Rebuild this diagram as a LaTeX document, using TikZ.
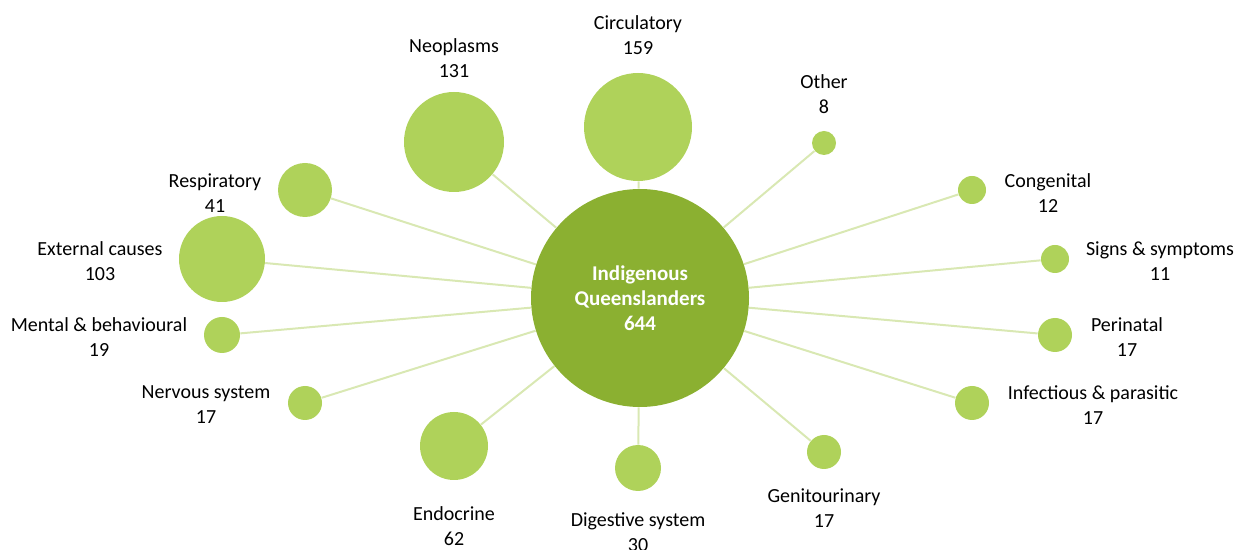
\documentclass[tikz,border=0pt]{standalone}
\usepackage{fontspec}
\setmainfont{Carlito}
\usepackage{tikz}

\definecolor{hubgreen}{HTML}{8BB031}
\definecolor{leafgreen}{HTML}{AFD25A}
\definecolor{spokegreen}{HTML}{D9E8B3}

\begin{document}
\begin{tikzpicture}[x=0.5pt, y=-0.5pt,
    font=\fontsize{10}{12.5}\selectfont,
    hub/.style={circle, fill=hubgreen, inner sep=0pt, text=white, font=\fontsize{10.5}{12.5}\selectfont\bfseries, align=center},
    bubble/.style={circle, fill=leafgreen, inner sep=0pt},
    lbl/.style={align=center, inner sep=0pt},
    spoke/.style={draw=spokegreen, line width=1pt}]
    \useasboundingbox (0,0) rectangle (1248,550);

    % centre
    \node[hub, minimum size=109pt] (iq) at (640,298) {Indigenous\\Queenslanders\\644};

    % top
    \node[bubble, minimum size=54pt] (circ) at (638,127) {};
    \node[bubble, minimum size=50pt] (neo) at (454,142) {};
    \node[bubble, minimum size=12pt] (oth) at (824,143) {};

    % right
    \node[bubble, minimum size=14pt] (cong) at (972,190) {};
    \node[bubble, minimum size=14pt] (sign) at (1055,259) {};
    \node[bubble, minimum size=17pt] (peri) at (1055,335) {};
    \node[bubble, minimum size=17pt] (infe) at (972,403) {};

    % bottom
    \node[bubble, minimum size=17pt] (geni) at (824,452) {};
    \node[bubble, minimum size=23pt] (dige) at (638,468) {};
    \node[bubble, minimum size=34pt] (endo) at (454,446) {};

    % left
    \node[bubble, minimum size=17pt] (nerv) at (305,403) {};
    \node[bubble, minimum size=18pt] (ment) at (222,335) {};
    \node[bubble, minimum size=43pt] (exte) at (222,259) {};
    \node[bubble, minimum size=27pt] (resp) at (305,190) {};

    % spokes
    \draw[spoke] (iq) -- (circ);
    \draw[spoke] (iq) -- (neo);
    \draw[spoke] (iq) -- (oth);
    \draw[spoke] (iq) -- (cong);
    \draw[spoke] (iq) -- (sign);
    \draw[spoke] (iq) -- (peri);
    \draw[spoke] (iq) -- (infe);
    \draw[spoke] (iq) -- (geni);
    \draw[spoke] (iq) -- (dige);
    \draw[spoke] (iq) -- (endo);
    \draw[spoke] (iq) -- (nerv);
    \draw[spoke] (iq) -- (ment);
    \draw[spoke] (iq) -- (exte);
    \draw[spoke] (iq) -- (resp);

    % labels
    \node[lbl] (circ-l) at (638,35) {Circulatory\\159};
    \node[lbl] (neo-l) at (454,58) {Neoplasms\\131};
    \node[lbl] (oth-l) at (824,94) {Other\\8};
    \node[lbl] (cong-l) at (1048,193) {Congenital\\12};
    \node[lbl] (sign-l) at (1160,261) {Signs \& symptoms\\11};
    \node[lbl] (peri-l) at (1127,337) {Perinatal\\17};
    \node[lbl] (infe-l) at (1093,405) {Infectious \& parasitic\\17};
    \node[lbl] (geni-l) at (824,508) {Genitourinary\\17};
    \node[lbl] (dige-l) at (638,532) {Digestive system\\30};
    \node[lbl] (endo-l) at (454,526) {Endocrine\\62};
    \node[lbl] (nerv-l) at (206,405) {Nervous system\\17};
    \node[lbl] (ment-l) at (99,337) {Mental \& behavioural\\19};
    \node[lbl] (exte-l) at (100,261) {External causes\\103};
    \node[lbl] (resp-l) at (215,193) {Respiratory\\41};
\end{tikzpicture}
\end{document}
